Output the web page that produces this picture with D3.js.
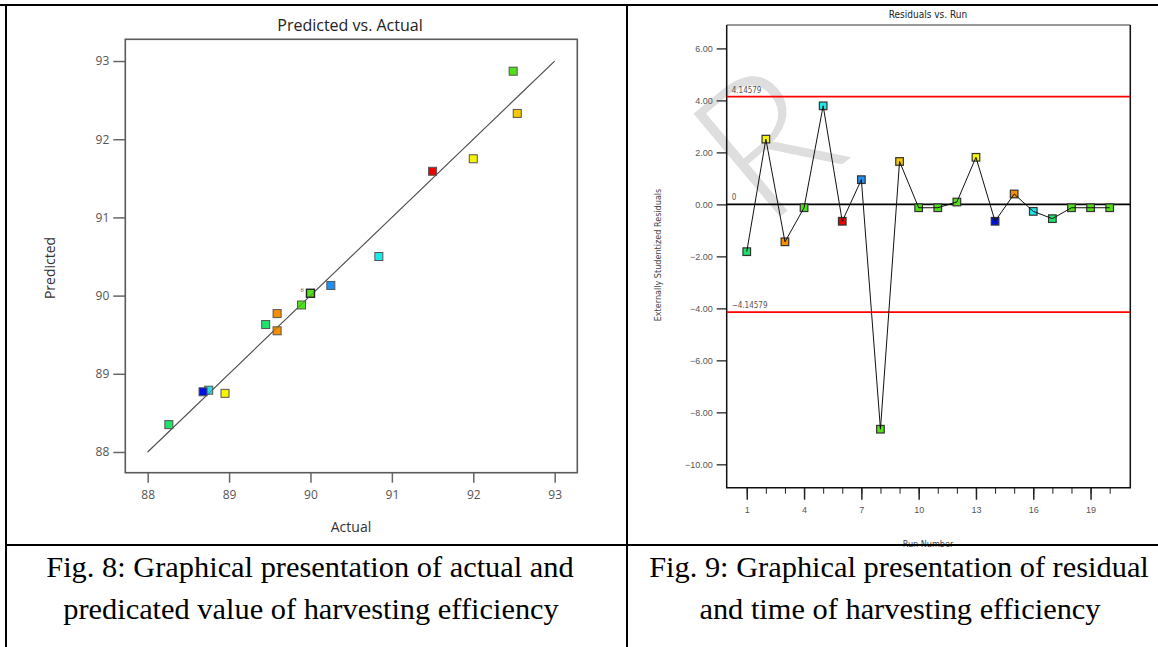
<!DOCTYPE html>
<html>
<head>
<meta charset="utf-8">
<script src="https://cdn.jsdelivr.net/npm/d3@7"></script>
<style>
  body { margin: 0; background: #fff; }
  svg { display: block; }
  .tk text { fill: #555; }
</style>
</head>
<body>
<div id="chart"></div>
<script>
// ---- data ----
var actual    = [92.49, 92.54, 92.00, 91.50, 90.84, 90.25, 90.00, 89.89, 89.59, 89.59, 89.45, 88.75, 88.68, 88.95, 88.26];
var predicted = [92.87, 92.33, 91.75, 91.59, 90.50, 90.13, 90.03, 89.88, 89.77, 89.55, 89.63, 88.79, 88.77, 88.75, 88.35];
var ptColors  = ["#52e01a", "#f5c800", "#f5f500", "#ee0000", "#1ee8e8", "#2090f0", "#52e01a", "#52e01a",
                 "#f59000", "#f59000", "#1de36a", "#30d8e0", "#0010e0", "#f5f500", "#1de36a"];
var predTicks = [88, 89, 90, 91, 92, 93];

var runs      = [1, 2, 3, 4, 5, 6, 7, 8, 9, 10, 11, 12, 13, 14, 15, 16, 17, 18, 19, 20];
var residuals = [-1.82, 2.51, -1.44, -0.13, 3.79, -0.65, 0.95, -8.65, 1.65, -0.13,
                 -0.13, 0.09, 1.81, -0.65, 0.40, -0.27, -0.55, -0.13, -0.13, -0.13];
var resColors = ["#1de36a", "#f5f500", "#f59000", "#52e01a", "#1ee8e8", "#ee0000", "#2090f0", "#52e01a", "#f5c800", "#52e01a",
                 "#52e01a", "#52e01a", "#f5f500", "#0010e0", "#f59000", "#1ee8e8", "#1de36a", "#52e01a", "#52e01a", "#52e01a"];
var limit = 4.14579;
var resTicks = [-10, -8, -6, -4, -2, 0, 2, 4, 6];
var runTicks = [1, 4, 7, 10, 13, 16, 19];

var W = 1158, H = 647;
var svg = d3.select('#chart').append('svg').attr('width', W).attr('height', H);

// faint watermark letter showing through the right figure
svg.append('text')
  .attr('transform', 'translate(765,140) rotate(-40)')
  .attr('text-anchor', 'middle')
  .attr('dy', '0.36em')
  .style('font-family', 'Lato, sans-serif')
  .style('font-weight', 300)
  .style('font-size', '190px')
  .style('fill', '#dedede')
  .text('R');

// ================= left: Predicted vs. Actual =================
var L = {left: 125.3, right: 577.3, top: 39.3, bottom: 472.7};
svg.append('rect').attr('x', 7).attr('y', 7).attr('width', 619).attr('height', 537).style('fill', '#fff');

var px = d3.scaleLinear().domain([87.725, 93.278]).range([L.left, L.right]);
var py = d3.scaleLinear().domain([87.735, 93.278]).range([L.bottom, L.top]);

var left = svg.append('g').style('font-family', '"Open Sans", "Noto Sans", sans-serif');

left.append('g').attr('class', 'tk')
  .attr('transform', 'translate(' + L.left + ',0)')
  .call(d3.axisLeft(py).tickValues(predTicks).tickSize(12).tickPadding(4).tickFormat(d3.format('d')))
  .call(function(g){ g.select('.domain').remove(); })
  .call(function(g){ g.selectAll('line').style('stroke', '#666').style('stroke-width', 1.5); })
  .call(function(g){ g.selectAll('text').style('font-size', '12px').style('font-family', '"Open Sans", sans-serif'); });

left.append('g').attr('class', 'tk')
  .attr('transform', 'translate(0,' + L.bottom + ')')
  .call(d3.axisBottom(px).tickValues(predTicks).tickSize(10).tickPadding(8).tickFormat(d3.format('d')))
  .call(function(g){ g.select('.domain').remove(); })
  .call(function(g){ g.selectAll('line').style('stroke', '#666').style('stroke-width', 1.5); })
  .call(function(g){ g.selectAll('text').style('font-size', '12px').style('font-family', '"Open Sans", sans-serif'); });

left.append('rect')
  .attr('x', L.left).attr('y', L.top)
  .attr('width', L.right - L.left).attr('height', L.bottom - L.top)
  .style('fill', 'none').style('stroke', '#5a5a5a').style('stroke-width', 1.6);

// 45 degree line
left.append('line')
  .attr('x1', px(88)).attr('y1', py(88)).attr('x2', px(93)).attr('y2', py(93))
  .style('stroke', '#555').style('stroke-width', 1.1);

left.selectAll('.pt')
  .data(actual)
  .enter().append('rect')
  .attr('class', 'pt')
  .attr('x', function(d){ return px(d) - 4; })
  .attr('y', function(d, i){ return py(predicted[i]) - 4; })
  .attr('width', 8).attr('height', 8)
  .style('fill', function(d, i){ return ptColors[i]; })
  .style('stroke', function(d, i){ return i === 6 ? '#222' : '#555'; })
  .style('stroke-width', function(d, i){ return i === 6 ? 1.4 : 1; });

// line over the marks, like the original plot
left.append('line')
  .attr('x1', px(88)).attr('y1', py(88)).attr('x2', px(93)).attr('y2', py(93))
  .style('stroke', '#555').style('stroke-width', 0.8).style('opacity', 0.7);

left.append('text')
  .attr('x', px(actual[6]) - 10).attr('y', py(predicted[6]) - 1)
  .style('font-size', '6px').style('fill', '#444').text('6');

left.append('text')
  .attr('x', 350).attr('y', 31).attr('text-anchor', 'middle')
  .style('font-size', '16px').style('fill', '#222').text('Predicted vs. Actual');

left.append('text')
  .attr('x', 351).attr('y', 532).attr('text-anchor', 'middle')
  .style('font-size', '14px').style('fill', '#333').text('Actual');

left.append('text')
  .attr('transform', 'translate(55,268) rotate(-90)').attr('text-anchor', 'middle')
  .style('font-size', '14px').style('fill', '#333').text('Predicted');

// ================= right: Residuals vs. Run =================
var R = {left: 726.7, right: 1130.3, top: 25, bottom: 487.7};
var rx = d3.scaleLinear().domain([-0.05, 21.08]).range([R.left, R.right]);
var ry = d3.scaleLinear().domain([-10.9, 6.9]).range([R.bottom, R.top]);

var right = svg.append('g').style('font-family', '"Liberation Sans Narrow", "DejaVu Sans Condensed", sans-serif');

right.append('g').attr('class', 'tk')
  .attr('transform', 'translate(' + R.left + ',0)')
  .call(d3.axisLeft(ry).tickValues(resTicks).tickSize(10).tickPadding(4).tickFormat(d3.format('.2f')))
  .call(function(g){ g.select('.domain').remove(); })
  .call(function(g){ g.selectAll('line').style('stroke', '#444').style('stroke-width', 1.5); })
  .call(function(g){ g.selectAll('text').style('font-size', '9px').style('font-family', '"Liberation Sans Narrow", sans-serif'); });

// minor ticks for every run
right.append('g')
  .attr('transform', 'translate(0,' + R.bottom + ')')
  .call(d3.axisBottom(rx).tickValues(runs).tickSize(6).tickFormat(''))
  .call(function(g){ g.select('.domain').remove(); })
  .call(function(g){ g.selectAll('line').style('stroke', '#222').style('stroke-width', 1); });

right.append('g').attr('class', 'tk')
  .attr('transform', 'translate(0,' + R.bottom + ')')
  .call(d3.axisBottom(rx).tickValues(runTicks).tickSize(12).tickPadding(7).tickFormat(d3.format('d')))
  .call(function(g){ g.select('.domain').remove(); })
  .call(function(g){ g.selectAll('line').style('stroke', '#222').style('stroke-width', 1.5); })
  .call(function(g){ g.selectAll('text').style('font-size', '9px').style('font-family', '"Liberation Sans Narrow", sans-serif'); });

// frame
right.append('line').attr('x1', R.left).attr('x2', R.right).attr('y1', R.top).attr('y2', R.top)
  .style('stroke', '#777').style('stroke-width', 1.5);
right.append('path')
  .attr('d', 'M' + R.left + ',' + R.top + 'V' + R.bottom + 'H' + R.right + 'V' + R.top)
  .style('fill', 'none').style('stroke', '#111').style('stroke-width', 1.5);

// limits and zero line
[limit, -limit].forEach(function(v){
  right.append('line')
    .attr('x1', R.left).attr('x2', R.right).attr('y1', ry(v)).attr('y2', ry(v))
    .style('stroke', '#ff0000').style('stroke-width', 1.6);
  right.append('text')
    .attr('x', R.left + 5).attr('y', ry(v) - 4)
    .style('font-size', '8px').style('fill', '#555').text(d3.format('.5f')(v));
});
right.append('line')
  .attr('x1', R.left).attr('x2', R.right).attr('y1', ry(0)).attr('y2', ry(0))
  .style('stroke', '#000').style('stroke-width', 1.8);
right.append('text')
  .attr('x', R.left + 5).attr('y', ry(0) - 4)
  .style('font-size', '8px').style('fill', '#555').text('0');

right.selectAll('.rpt')
  .data(residuals)
  .enter().append('rect')
  .attr('class', 'rpt')
  .attr('x', function(d, i){ return rx(runs[i]) - 3.8; })
  .attr('y', function(d){ return ry(d) - 3.8; })
  .attr('width', 7.6).attr('height', 7.6)
  .style('fill', function(d, i){ return resColors[i]; })
  .style('stroke', '#333').style('stroke-width', 1.2);

right.append('path')
  .datum(residuals)
  .attr('d', d3.line().x(function(d, i){ return rx(runs[i]); }).y(function(d){ return ry(d); }))
  .style('fill', 'none').style('stroke', '#111').style('stroke-width', 1);

right.append('text')
  .attr('x', 928).attr('y', 18).attr('text-anchor', 'middle')
  .style('font-size', '10px').style('fill', '#222').text('Residuals vs. Run');

right.append('text')
  .attr('transform', 'translate(661,255) rotate(-90)').attr('text-anchor', 'middle')
  .style('font-size', '9px').style('fill', '#444').text('Externally Studentized Residuals');

right.append('text')
  .attr('x', 928).attr('y', 547).attr('text-anchor', 'middle')
  .style('font-size', '9px').style('fill', '#444').text('Run Number');

// ================= table borders and captions =================
var border = svg.append('g').style('stroke', '#000').style('stroke-width', 2);
border.append('line').attr('x1', 0).attr('x2', W).attr('y1', 5).attr('y2', 5);
border.append('line').attr('x1', 6).attr('x2', 6).attr('y1', 5).attr('y2', H);
border.append('line').attr('x1', 627).attr('x2', 627).attr('y1', 5).attr('y2', H);
border.append('line').attr('x1', 6).attr('x2', W).attr('y1', 545).attr('y2', 545);

var caps = svg.append('g')
  .style('font-family', '"Liberation Serif", "Times New Roman", serif')
  .style('font-size', '30.4px').style('fill', '#000')
  .attr('text-anchor', 'middle');
caps.append('text').attr('x', 310).attr('y', 577).text('Fig. 8: Graphical presentation of actual and');
caps.append('text').attr('x', 311).attr('y', 619).text('predicated value of harvesting efficiency');
caps.append('text').attr('x', 899).attr('y', 577).text('Fig. 9: Graphical presentation of residual');
caps.append('text').attr('x', 900).attr('y', 619).text('and time of harvesting efficiency');
</script>
</body>
</html>
